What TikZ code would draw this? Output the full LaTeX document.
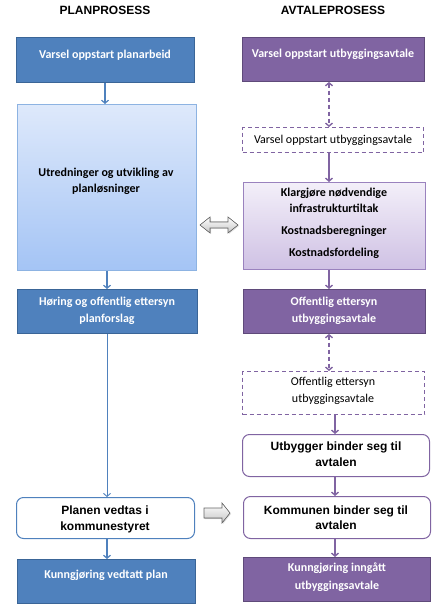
\documentclass[tikz,border=0pt]{standalone}
\usepackage{fontspec}
\setmainfont{Carlito}
\newfontfamily\arialf{Liberation Sans}
\usetikzlibrary{arrows.meta,shadows}
\definecolor{blueF}{HTML}{4F81BD}
\definecolor{blueD}{HTML}{3A6597}
\definecolor{purF}{HTML}{8064A2}
\definecolor{purD}{HTML}{5F4A7A}
\definecolor{ltblueB}{HTML}{8DB3E2}
\definecolor{lavB}{HTML}{9A82BE}
\definecolor{ltTop}{RGB}{222,233,251}
\definecolor{ltBot}{RGB}{164,196,245}
\definecolor{lavTop}{RGB}{243,239,249}
\definecolor{lavBot}{RGB}{207,193,228}
\begin{document}
\begin{tikzpicture}[x=1pt,y=-1pt,
  bluebox/.style={draw=blueD, fill=blueF, line width=0.9pt, inner sep=0pt, anchor=north west},
  purbox/.style={draw=purD, fill=purF, line width=0.9pt, inner sep=0pt, anchor=north west},
  dashbox/.style={draw=purF, dash pattern=on 4pt off 3pt, line width=1.2pt, inner sep=0pt, anchor=north west},
  rbbox/.style={draw=blueF, fill=white, rounded corners=7pt, line width=1pt, inner sep=0pt, anchor=north west},
  rpbox/.style={draw=purF, fill=white, rounded corners=7pt, line width=1pt, inner sep=0pt, anchor=north west},
  wt/.style={text=white, font=\bfseries\fontsize{12}{16.5}\selectfont, align=center, anchor=base, inner sep=0pt},
  bt/.style={text=black, font=\bfseries\fontsize{12}{16.5}\selectfont, align=center, anchor=base, inner sep=0pt},
  nt/.style={text=black, font=\fontsize{12}{17.5}\selectfont, align=center, anchor=base, inner sep=0pt},
  arialtxt/.style={text=black, font=\arialf\bfseries\fontsize{12}{15.3}\selectfont, align=center, anchor=base, inner sep=0pt},
  ttl/.style={text=black, font=\arialf\bfseries\fontsize{12}{13}\selectfont, anchor=base, inner sep=0pt},
  barr/.style={draw=blueF, line width=1.2pt, -{Straight Barb[length=3pt,width=7pt]}},
  parr/.style={draw=purF, line width=1.4pt, -{Straight Barb[length=3pt,width=7pt]}},
  pdarr/.style={draw=purF, line width=1.4pt, dash pattern=on 4pt off 3pt, {Straight Barb[length=3pt,width=7pt]}-{Straight Barb[length=3pt,width=7pt]}},
  grayarr/.style={draw=gray!80!black, line width=0.6pt, top color=white, bottom color=gray!45, drop shadow={shadow xshift=1pt, shadow yshift=-1pt, opacity=0.25}}
]
\useasboundingbox (0,0) rectangle (442,609);

% titles
\node[ttl] (ttlL) at (105,14.5) {PLANPROSESS};
\node[ttl] (ttlR) at (333,14.5) {AVTALEPROSESS};

% boxes, left column
\node[bluebox, minimum width=178pt, minimum height=45pt] (L1) at (16,37) {};
\node[draw=ltblueB, line width=0.9pt, top color=ltTop, bottom color=ltBot, inner sep=0pt, anchor=north west, minimum width=179pt, minimum height=166pt] (L2) at (17,104) {};
\node[bluebox, minimum width=180pt, minimum height=44pt] (L3) at (17,289) {};
\node[rbbox, minimum width=178pt, minimum height=41pt] (L4) at (16,497) {};
\node[bluebox, minimum width=178pt, minimum height=44pt] (L5) at (17,559) {};

% boxes, right column
\node[purbox, minimum width=182pt, minimum height=44pt] (R1) at (242,37) {};
\node[dashbox, minimum width=181pt, minimum height=25pt] (R2) at (242,127) {};
\node[draw=lavB, line width=0.9pt, top color=lavTop, bottom color=lavBot, inner sep=0pt, anchor=north west, minimum width=182pt, minimum height=87pt] (R3) at (243,182) {};
\node[purbox, minimum width=182pt, minimum height=44pt] (R4) at (243,289) {};
\node[dashbox, minimum width=182pt, minimum height=43pt] (R5) at (242,371) {};
\node[rpbox, minimum width=187pt, minimum height=42pt] (R6) at (242,434) {};
\node[rpbox, minimum width=187pt, minimum height=42pt] (R7) at (243,496) {};
\node[purbox, minimum width=187pt, minimum height=44pt] (R8) at (243,557) {};

% texts (coordinate = baseline of last line)
\node[wt] (L1t) at (105,58.3) {Varsel oppstart planarbeid};
\node[bt] (L2t) at (106,193) {Utredninger og utvikling av\\planløsninger};
\node[wt] (L3t) at (107,322) {Høring og offentlig ettersyn\\planforslag};
\node[arialtxt] (L4t) at (105,530) {Planen vedtas i\\kommunestyret};
\node[wt] (L5t) at (106,578.3) {Kunngjøring vedtatt plan};

\node[wt] (R1t) at (333,58) {Varsel oppstart utbyggingsavtale};
\node[nt] (R2t) at (333,143.3) {Varsel oppstart utbyggingsavtale};
\node[bt] (R3t) at (334,212.7) {Klargjøre nødvendige\\infrastrukturtiltak};
\node[bt] (R3u) at (334,235) {Kostnadsberegninger};
\node[bt] (R3v) at (334,256) {Kostnadsfordeling};
\node[wt] (R4t) at (334,322) {Offentlig ettersyn\\utbyggingsavtale};
\node[nt] (R5t) at (333,402.7) {Offentlig ettersyn\\utbyggingsavtale};
\node[arialtxt] (R6t) at (336,466) {Utbygger binder seg til\\avtalen};
\node[arialtxt] (R7t) at (336,529.3) {Kommunen binder seg til\\avtalen};
\node[wt, font=\bfseries\fontsize{12}{17.6}\selectfont] (R8t) at (337,589.3) {Kunngjøring inngått\\utbyggingsavtale};

% left connectors
\draw[barr] (L1.south -| 105,0) -- (L2.north -| 105,0);
\draw[barr] (L2.south -| 107,0) -- (L3.north -| 107,0);
\draw[barr, line width=0.9pt] (L3.south -| 107,0) -- (L4.north -| 107,0);
\draw[barr] (L4.south -| 107,0) -- (L5.north -| 107,0);

% right connectors
\draw[pdarr] (R1.south -| 329,0) -- (R2.north -| 329,0);
\draw[parr] (R2.south -| 329,0) -- (R3.north -| 329,0);
\draw[parr] (R3.south -| 329,0) -- (R4.north -| 329,0);
\draw[pdarr] (R4.south -| 329,0) -- (R5.north -| 329,0);
\draw[parr] (R5.south -| 335,0) -- (R6.north -| 335,0);
\draw[parr] (R6.south -| 335,0) -- (R7.north -| 335,0);
\draw[parr] (R7.south -| 335,0) -- (R8.north -| 335,0);

% gray block arrows
\filldraw[grayarr] (200,225) -- (210,217) -- (210,222) -- (228,222) -- (228,217) -- (238,225) -- (228,233) -- (228,228) -- (210,228) -- (210,233) -- cycle;
\filldraw[grayarr] (204,508) -- (222,508) -- (222,503) -- (230,513) -- (222,523) -- (222,518) -- (204,518) -- cycle;
\end{tikzpicture}
\end{document}
